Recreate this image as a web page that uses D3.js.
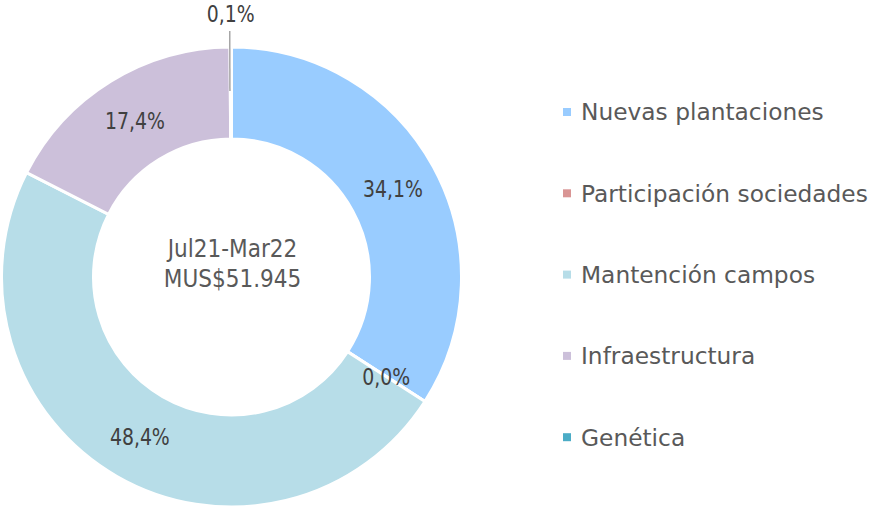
<!DOCTYPE html>
<html>
<head>
<meta charset="utf-8">
<script src="https://cdn.jsdelivr.net/npm/d3@7"></script>
<style>
  body { margin: 0; background: #fff; }
  text { font-family: "DejaVu Sans", sans-serif; }
</style>
</head>
<body>
<div id="chart"></div>
<script>
// investment split Jul21-Mar22
const categories = ["Nuevas plantaciones", "Participación sociedades", "Mantención campos", "Infraestructura", "Genética"]
const values = [34.1, 0.0, 48.4, 17.4, 0.1]
const labels = ["34,1%", "0,0%", "48,4%", "17,4%", "0,1%"]
const colors = ["#99CCFF", "#D99594", "#B7DDE8", "#CCC0DA", "#4BACC6"]
const centerLines = ["Jul21-Mar22", "MUS$51.945"]

drawChart()

function drawChart() {
    const width = 877, height = 506
    const cx = 231.5, cy = 277
    const outer = 230, inner = 138

    const svg = d3.select("#chart")
        .append("svg")
        .attr("width", width)
        .attr("height", height)

    const g = svg.append("g")
        .attr("transform", `translate(${cx},${cy})`)

    const data = categories.map((c, i) => ({ name: c, value: values[i], label: labels[i], color: colors[i] }))

    const pie = d3.pie()
        .value(d => d.value)
        .sort(null)

    const arc = d3.arc()
        .innerRadius(inner)
        .outerRadius(outer)

    const arcs = pie(data)

    g.selectAll("path")
        .data(arcs)
        .enter()
        .append("path")
        .attr("d", arc)
        .attr("fill", d => d.data.color)
        .attr("stroke", "#fff")
        .attr("stroke-width", 3)

    // tiny slices near the top get a leader line and a label outside the ring
    const isOutside = d => d.data.name === "Genética"
    const lineInner = d3.arc().innerRadius(186).outerRadius(186)
    const lineOuter = d3.arc().innerRadius(246).outerRadius(246)
    const labelOut = d3.arc().innerRadius(263).outerRadius(263)

    arcs.filter(isOutside).forEach(d => {
        const p1 = lineInner.centroid(d), p2 = lineOuter.centroid(d)
        g.append("line")
            .attr("x1", p1[0] - 1).attr("y1", p1[1])
            .attr("x2", p2[0] - 1).attr("y2", p2[1])
            .attr("stroke", "#A6A6A6")
            .attr("stroke-width", 1.5)
    })

    // the original font is tall and narrow, so squeeze the text a bit
    g.selectAll("text.pct")
        .data(arcs)
        .enter()
        .append("text")
        .attr("class", "pct")
        .attr("transform", d => `translate(${isOutside(d) ? labelOut.centroid(d) : arc.centroid(d)}) scale(0.82,1)`)
        .attr("text-anchor", "middle")
        .attr("dy", "0.36em")
        .attr("font-size", 23)
        .attr("fill", "#404040")
        .text(d => d.data.label)

    g.selectAll("text.center")
        .data(centerLines)
        .enter()
        .append("text")
        .attr("class", "center")
        .attr("transform", (d, i) => `translate(1,${-29 + i * 30}) scale(0.9,1)`)
        .attr("text-anchor", "middle")
        .attr("dy", "0.36em")
        .attr("font-size", 24)
        .attr("fill", "#595959")
        .text(d => d)

    // legend
    const legend = svg.append("g")
        .attr("transform", "translate(563,112)")

    const rows = legend.selectAll("g")
        .data(data)
        .enter()
        .append("g")
        .attr("transform", (d, i) => `translate(0,${i * 81.3})`)

    rows.append("rect")
        .attr("x", 0)
        .attr("y", -4)
        .attr("width", 8)
        .attr("height", 8)
        .attr("fill", d => d.color)

    rows.append("text")
        .attr("x", 18)
        .attr("dy", "0.36em")
        .attr("font-size", 23.3)
        .attr("fill", "#595959")
        .text(d => d.name)
}
</script>
</body>
</html>
